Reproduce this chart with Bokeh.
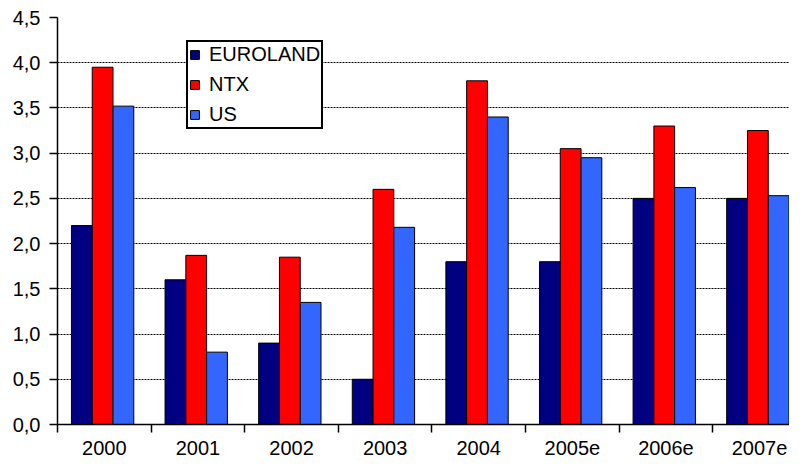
from bokeh.plotting import figure
from bokeh.models import Range1d, FixedTicker, ColumnDataSource, Legend, LegendItem
from bokeh.transform import dodge
from bokeh.embed import file_html
from bokeh.resources import INLINE

years = ["2000", "2001", "2002", "2003", "2004", "2005e", "2006e", "2007e"]
euroland = [2.2, 1.6, 0.9, 0.5, 1.8, 1.8, 2.5, 2.5]
ntx = [3.95, 1.87, 1.85, 2.6, 3.8, 3.05, 3.3, 3.25]
us = [3.52, 0.8, 1.35, 2.18, 3.4, 2.95, 2.62, 2.53]
y_ticks = [0.0, 0.5, 1.0, 1.5, 2.0, 2.5, 3.0, 3.5, 4.0, 4.5]
y_tick_labels = ["0,0", "0,5", "1,0", "1,5", "2,0", "2,5", "3,0", "3,5", "4,0", "4,5"]

FONT = "Liberation Sans"
centers = [i + 0.5 for i in range(len(years))]
bounds = [float(i) for i in range(len(years) + 1)]

src = ColumnDataSource(dict(x=centers, euroland=euroland, ntx=ntx, us=us))

p = figure(width=789, height=457, output_backend="svg", toolbar_location=None,
           x_range=Range1d(0, 7.82), y_range=Range1d(0, 4.5),
           min_border_left=57, min_border_right=0, min_border_top=17, min_border_bottom=30)
p.outline_line_color = None
p.background_fill_color = "white"
p.border_fill_color = "white"

bw = 0.222
r1 = p.vbar(x=dodge("x", -0.24, range=p.x_range), top="euroland", width=bw, source=src,
            fill_color="#000080", line_color="black", line_width=1)
r2 = p.vbar(x=dodge("x", -0.018, range=p.x_range), top="ntx", width=bw, source=src,
            fill_color="#FF0000", line_color="black", line_width=1)
r3 = p.vbar(x=dodge("x", 0.204, range=p.x_range), top="us", width=bw, source=src,
            fill_color="#3366FF", line_color="black", line_width=1)

# axes
xa = p.xaxis[0]
xa.ticker = FixedTicker(ticks=centers, minor_ticks=bounds)
xa.major_label_overrides = {c: y for c, y in zip(centers, years)}
xa.major_tick_out = 0
xa.major_tick_in = 0
xa.minor_tick_out = 8
xa.minor_tick_in = 0
xa.minor_tick_line_color = "black"
xa.minor_tick_line_width = 1.5
xa.axis_line_color = "black"
xa.axis_line_width = 1.5
xa.major_label_text_font = FONT
xa.major_label_text_font_size = "20px"
xa.major_label_text_color = "black"
xa.major_label_standoff = 8

ya = p.yaxis[0]
ya.ticker = FixedTicker(ticks=y_ticks, minor_ticks=[])
ya.major_label_overrides = {t: l for t, l in zip(y_ticks, y_tick_labels)}
ya.major_tick_out = 8
ya.major_tick_in = 0
ya.major_tick_line_color = "black"
ya.major_tick_line_width = 1.5
ya.minor_tick_line_color = None
ya.axis_line_color = "black"
ya.axis_line_width = 1.5
ya.major_label_text_font = FONT
ya.major_label_text_font_size = "20px"
ya.major_label_text_color = "black"
ya.major_label_standoff = 9

p.xgrid.grid_line_color = None
p.ygrid.ticker = FixedTicker(ticks=y_ticks[1:])
p.ygrid.grid_line_color = "black"
p.ygrid.grid_line_width = 1
p.ygrid.grid_line_dash = "2 1"

legend = Legend(items=[LegendItem(label="EUROLAND", renderers=[r1]),
                       LegendItem(label="NTX", renderers=[r2]),
                       LegendItem(label="US", renderers=[r3])],
                location=(129, 295))
legend.label_text_font = FONT
legend.label_text_font_size = "20px"
legend.label_text_color = "black"
legend.glyph_width = 11
legend.glyph_height = 11
legend.label_standoff = 9
legend.spacing = 7
legend.padding = 1
legend.margin = 0
legend.border_line_color = "black"
legend.border_line_width = 2
legend.border_line_alpha = 1
legend.background_fill_color = "white"
legend.background_fill_alpha = 1
p.add_layout(legend, "center")

open("out.html", "w").write(file_html(p, INLINE))
